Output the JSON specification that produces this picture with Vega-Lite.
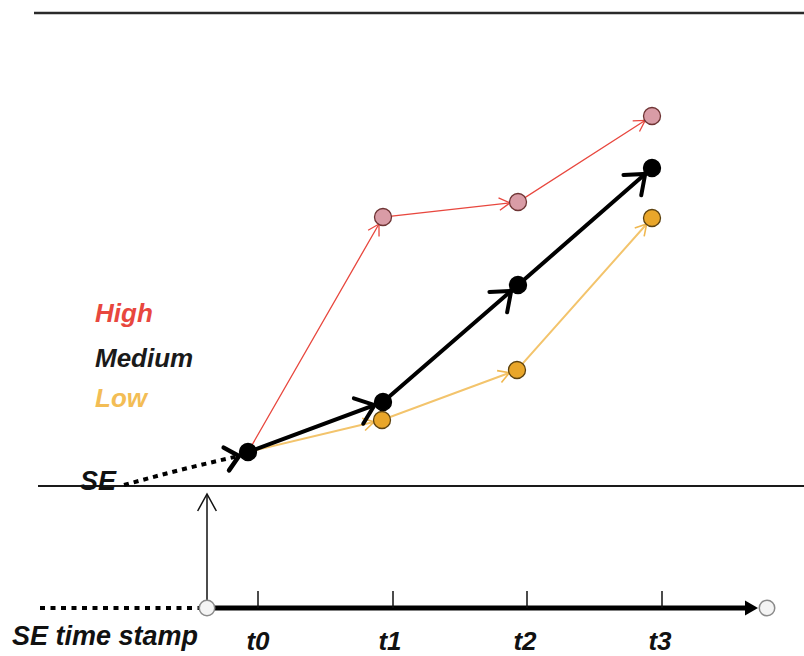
{
  "$schema": "https://vega.github.io/schema/vega-lite/v6.json",
  "autosize": {"type": "none"},
  "width": 804,
  "height": 656,
  "padding": 0,
  "background": "white",
  "config": {"view": {"stroke": null}},
  "datasets": {
    "rules": [
      {"part": "top", "x": 34, "x2": 804, "y": 13, "y2": 13},
      {"part": "mid", "x": 38, "x2": 804, "y": 486, "y2": 486},
      {"part": "stem", "x": 207, "x2": 207, "y": 608, "y2": 495},
      {"part": "axis", "x": 207, "x2": 749, "y": 608, "y2": 608},
      {"part": "lead", "x": 40, "x2": 199, "y": 608, "y2": 608},
      {"part": "tick", "x": 258, "x2": 258, "y": 591, "y2": 608},
      {"part": "tick", "x": 393, "x2": 393, "y": 591, "y2": 608},
      {"part": "tick", "x": 527, "x2": 527, "y": 591, "y2": 608},
      {"part": "tick", "x": 662, "x2": 662, "y": 591, "y2": 608}
    ],
    "paths": [
      {"series": "Medium", "step": 0, "x": 248, "y": 452},
      {"series": "Medium", "step": 1, "x": 383, "y": 402},
      {"series": "Medium", "step": 2, "x": 518, "y": 285},
      {"series": "Medium", "step": 3, "x": 652, "y": 168},
      {"series": "High", "step": 0, "x": 248, "y": 452},
      {"series": "High", "step": 1, "x": 383, "y": 217},
      {"series": "High", "step": 2, "x": 518, "y": 202},
      {"series": "High", "step": 3, "x": 652, "y": 116},
      {"series": "Low", "step": 0, "x": 248, "y": 452},
      {"series": "Low", "step": 1, "x": 382, "y": 420},
      {"series": "Low", "step": 2, "x": 517, "y": 370},
      {"series": "Low", "step": 3, "x": 652, "y": 218}
    ],
    "se": [
      {"step": 0, "x": 124, "y": 485},
      {"step": 1, "x": 180, "y": 470},
      {"step": 2, "x": 239, "y": 456}
    ],
    "points": [
      {"kind": "stamp", "x": 207, "y": 608},
      {"kind": "stamp", "x": 767, "y": 608},
      {"kind": "stemhead", "x": 207, "y": 494},
      {"kind": "axishead", "x": 758, "y": 608}
    ],
    "labels": [
      {"kind": "legend", "series": "High", "text": "High", "x": 95, "y": 322},
      {"kind": "legend", "series": "Medium", "text": "Medium", "x": 95, "y": 367},
      {"kind": "legend", "series": "Low", "text": "Low", "x": 95, "y": 407},
      {"kind": "se", "text": "SE", "x": 80, "y": 490},
      {"kind": "stamp", "text": "SE time stamp", "x": 12, "y": 645},
      {"kind": "tick", "text": "t0", "x": 258, "y": 650},
      {"kind": "tick", "text": "t1", "x": 390, "y": 650},
      {"kind": "tick", "text": "t2", "x": 525, "y": 650},
      {"kind": "tick", "text": "t3", "x": 660, "y": 650}
    ]
  },
  "encoding": {
    "x": {"field": "x", "type": "quantitative", "scale": {"domain": [0, 804], "nice": false, "zero": false}, "axis": null},
    "y": {"field": "y", "type": "quantitative", "scale": {"domain": [0, 656], "nice": false, "zero": false, "reverse": true}, "axis": null}
  },
  "layer": [
    {
      "data": {"name": "rules"},
      "transform": [{"filter": "datum.part == 'top'"}],
      "mark": {"type": "rule", "color": "#2a2a2a", "strokeWidth": 2.5},
      "encoding": {"x2": {"field": "x2"}, "y2": {"field": "y2"}}
    },
    {
      "data": {"name": "rules"},
      "transform": [{"filter": "datum.part == 'mid'"}],
      "mark": {"type": "rule", "color": "#1a1a1a", "strokeWidth": 2},
      "encoding": {"x2": {"field": "x2"}, "y2": {"field": "y2"}}
    },
    {
      "data": {"name": "rules"},
      "transform": [{"filter": "datum.part == 'stem'"}],
      "mark": {"type": "rule", "color": "#111111", "strokeWidth": 1.5},
      "encoding": {"x2": {"field": "x2"}, "y2": {"field": "y2"}}
    },
    {
      "data": {"name": "rules"},
      "transform": [{"filter": "datum.part == 'lead'"}],
      "mark": {"type": "rule", "color": "#000000", "strokeWidth": 4, "strokeDash": [5, 5.5], "strokeCap": "butt"},
      "encoding": {"x2": {"field": "x2"}, "y2": {"field": "y2"}}
    },
    {
      "data": {"name": "rules"},
      "transform": [{"filter": "datum.part == 'axis'"}],
      "mark": {"type": "rule", "color": "#000000", "strokeWidth": 5},
      "encoding": {"x2": {"field": "x2"}, "y2": {"field": "y2"}}
    },
    {
      "data": {"name": "rules"},
      "transform": [{"filter": "datum.part == 'tick'"}],
      "mark": {"type": "rule", "color": "#111111", "strokeWidth": 1.5},
      "encoding": {"x2": {"field": "x2"}, "y2": {"field": "y2"}}
    },
    {
      "data": {"name": "points"},
      "transform": [{"filter": "datum.kind == 'stemhead'"}],
      "mark": {"type": "point", "shape": "M-0.55,1L0,0L0.55,1", "size": 1156, "filled": false, "stroke": "#111111", "strokeWidth": 1.5, "opacity": 1}
    },
    {
      "data": {"name": "points"},
      "transform": [{"filter": "datum.kind == 'axishead'"}],
      "mark": {"type": "point", "shape": "M0,0L-1.3,-0.75L-1.3,0.75Z", "size": 400, "filled": true, "color": "#000000", "opacity": 1}
    },
    {
      "data": {"name": "points"},
      "transform": [{"filter": "datum.kind == 'stamp'"}],
      "mark": {"type": "point", "shape": "circle", "size": 240, "filled": true, "fill": "#f4f4f4", "stroke": "#8a8a8a", "strokeWidth": 1.5, "opacity": 1}
    },
    {
      "data": {"name": "se"},
      "mark": {"type": "line", "color": "#000000", "strokeWidth": 4, "strokeDash": [5, 5], "strokeCap": "butt", "interpolate": "monotone"},
      "encoding": {"order": {"field": "step"}}
    },
    {
      "data": {"name": "se"},
      "transform": [
        {"window": [{"op": "lag", "field": "x", "as": "px"}, {"op": "lag", "field": "y", "as": "py"}], "sort": [{"field": "step", "order": "ascending"}]},
        {"filter": "datum.step == 2"},
        {"calculate": "atan2(datum.y - datum.py, datum.x - datum.px) * 180 / PI", "as": "heading"}
      ],
      "mark": {"type": "point", "shape": "M-1,-0.9L0,0L-1,0.9", "size": 676, "filled": false, "stroke": "#000000", "strokeWidth": 4.5, "opacity": 1, "strokeCap": "round"},
      "encoding": {"angle": {"field": "heading", "type": "quantitative", "scale": null}}
    },
    {
      "data": {"name": "paths"},
      "transform": [{"filter": "datum.series == 'High'"}],
      "mark": {"type": "line", "color": "#e8473e", "strokeWidth": 1.3},
      "encoding": {"order": {"field": "step"}}
    },
    {
      "data": {"name": "paths"},
      "transform": [
        {"filter": "datum.series == 'High'"},
        {"window": [{"op": "lag", "field": "x", "as": "px"}, {"op": "lag", "field": "y", "as": "py"}], "sort": [{"field": "step", "order": "ascending"}]},
        {"filter": "datum.step > 0"},
        {"calculate": "atan2(datum.y - datum.py, datum.x - datum.px) * 180 / PI", "as": "heading"}
      ],
      "mark": {"type": "point", "shape": "M-2.1,-0.7L-0.9,0L-2.1,0.7", "size": 324, "filled": false, "stroke": "#e8473e", "strokeWidth": 1.3, "opacity": 1},
      "encoding": {"angle": {"field": "heading", "type": "quantitative", "scale": null}}
    },
    {
      "data": {"name": "paths"},
      "transform": [{"filter": "datum.series == 'Low'"}],
      "mark": {"type": "line", "color": "#f3c46c", "strokeWidth": 2},
      "encoding": {"order": {"field": "step"}}
    },
    {
      "data": {"name": "paths"},
      "transform": [
        {"filter": "datum.series == 'Low'"},
        {"window": [{"op": "lag", "field": "x", "as": "px"}, {"op": "lag", "field": "y", "as": "py"}], "sort": [{"field": "step", "order": "ascending"}]},
        {"filter": "datum.step > 0"},
        {"calculate": "atan2(datum.y - datum.py, datum.x - datum.px) * 180 / PI", "as": "heading"}
      ],
      "mark": {"type": "point", "shape": "M-2.1,-0.7L-0.9,0L-2.1,0.7", "size": 324, "filled": false, "stroke": "#f0b850", "strokeWidth": 1.6, "opacity": 1},
      "encoding": {"angle": {"field": "heading", "type": "quantitative", "scale": null}}
    },
    {
      "data": {"name": "paths"},
      "transform": [{"filter": "datum.series == 'Medium'"}],
      "mark": {"type": "line", "color": "#000000", "strokeWidth": 4},
      "encoding": {"order": {"field": "step"}}
    },
    {
      "data": {"name": "paths"},
      "transform": [
        {"filter": "datum.series == 'Medium'"},
        {"window": [{"op": "lag", "field": "x", "as": "px"}, {"op": "lag", "field": "y", "as": "py"}], "sort": [{"field": "step", "order": "ascending"}]},
        {"filter": "datum.step > 0"},
        {"calculate": "atan2(datum.y - datum.py, datum.x - datum.px) * 180 / PI", "as": "heading"}
      ],
      "mark": {"type": "point", "shape": "M-2.9,-1.5L-1,0L-2.9,1.5", "size": 324, "filled": false, "stroke": "#000000", "strokeWidth": 4, "opacity": 1, "strokeCap": "round"},
      "encoding": {"angle": {"field": "heading", "type": "quantitative", "scale": null}}
    },
    {
      "data": {"name": "paths"},
      "transform": [{"filter": "datum.series == 'Medium' || datum.step > 0"}],
      "mark": {"type": "point", "shape": "circle", "size": 290, "filled": true, "strokeWidth": 1.3, "opacity": 1},
      "encoding": {
        "fill": {"field": "series", "type": "nominal", "scale": {"domain": ["High", "Medium", "Low"], "range": ["#d99ca6", "#000000", "#e9a62a"]}, "legend": null},
        "stroke": {"field": "series", "type": "nominal", "scale": {"domain": ["High", "Medium", "Low"], "range": ["#6e3434", "#000000", "#5c4210"]}, "legend": null}
      }
    },
    {
      "data": {"name": "labels"},
      "transform": [{"filter": "datum.kind == 'legend'"}],
      "mark": {"type": "text", "align": "left", "baseline": "alphabetic", "font": "Liberation Sans", "fontSize": 26, "fontWeight": "bold", "fontStyle": "italic"},
      "encoding": {
        "text": {"field": "text"},
        "color": {"field": "series", "type": "nominal", "scale": {"domain": ["High", "Medium", "Low"], "range": ["#e8473e", "#1a1a1a", "#f3bd55"]}, "legend": null}
      }
    },
    {
      "data": {"name": "labels"},
      "transform": [{"filter": "datum.kind == 'se' || datum.kind == 'stamp'"}],
      "mark": {"type": "text", "align": "left", "baseline": "alphabetic", "font": "Liberation Sans", "fontSize": 27, "fontWeight": "bold", "fontStyle": "italic", "color": "#111111"},
      "encoding": {"text": {"field": "text"}}
    },
    {
      "data": {"name": "labels"},
      "transform": [{"filter": "datum.kind == 'tick'"}],
      "mark": {"type": "text", "align": "center", "baseline": "alphabetic", "font": "Liberation Sans", "fontSize": 26, "fontWeight": "bold", "fontStyle": "italic", "color": "#111111"},
      "encoding": {"text": {"field": "text"}}
    }
  ]
}
